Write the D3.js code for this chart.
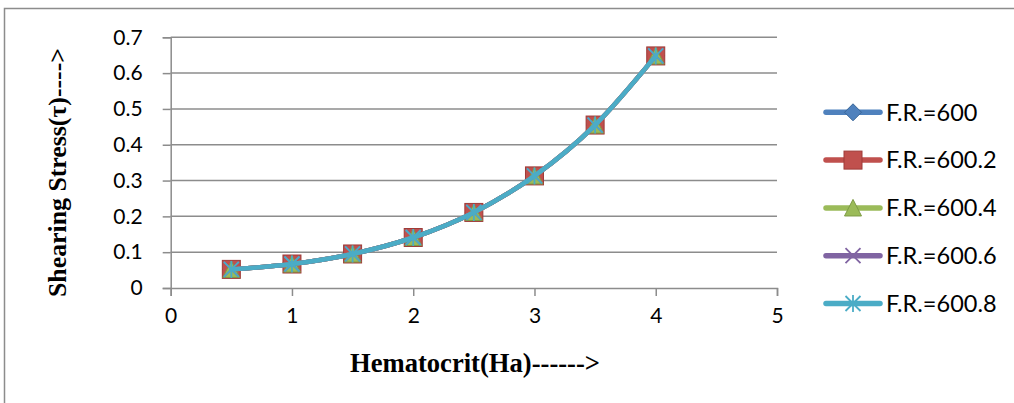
<!DOCTYPE html>
<html><head><meta charset="utf-8">
<script src="https://cdn.jsdelivr.net/npm/d3@7"></script>
<style>
body{margin:0;background:#fff;}
svg{display:block;}
</style></head>
<body>
<svg id="chart" width="1014" height="403"></svg>
<script>
const hematocrit = [0.5, 1, 1.5, 2, 2.5, 3, 3.5, 4];
const seriesNames = ["F.R.=600", "F.R.=600.2", "F.R.=600.4", "F.R.=600.6", "F.R.=600.8"];
const fr600   = [0.052, 0.067, 0.095, 0.141, 0.211, 0.313, 0.455, 0.648];
const fr600_2 = [0.052, 0.067, 0.095, 0.141, 0.211, 0.313, 0.455, 0.648];
const fr600_4 = [0.052, 0.067, 0.095, 0.141, 0.211, 0.313, 0.455, 0.648];
const fr600_6 = [0.052, 0.067, 0.095, 0.141, 0.211, 0.313, 0.455, 0.648];
const fr600_8 = [0.052, 0.067, 0.095, 0.141, 0.211, 0.313, 0.455, 0.648];
const xTicks = [0, 1, 2, 3, 4, 5];
const yTicks = [0, 0.1, 0.2, 0.3, 0.4, 0.5, 0.6, 0.7];
const xTitle = "Hematocrit(Ha)------>";
const yTitle = "Shearing Stress(τ)---->";

const seriesValues = [fr600, fr600_2, fr600_4, fr600_6, fr600_8];
const colors = ["#4F81BD", "#C0504D", "#9BBB59", "#8064A2", "#4BACC6"];
const strokes = ["#3A6699", "#9E3B38", "#7E9B45", "#63498A", "#3A94AC"];
const markers = ["diamond", "square", "triangle", "x", "star"];

const svg = d3.select("#chart");
const gridColor = "#8c8c8c";

// outer chart border (left + top, continuing past right/bottom)
svg.append("path").attr("d", "M4.5,403 L4.5,8.5 L1014,8.5")
  .attr("fill", "none").attr("stroke", gridColor).attr("stroke-width", 1.5);

const x = d3.scaleLinear().domain([0, 5]).range([170.7, 777]);
const y = d3.scaleLinear().domain([0, 0.7]).range([288, 37.3]);

// gridlines
svg.append("g").selectAll("line").data(yTicks.slice(1)).join("line")
  .attr("x1", x(0)).attr("x2", x(5))
  .attr("y1", d => y(d)).attr("y2", d => y(d))
  .attr("stroke", gridColor).attr("stroke-width", 1.5);

// axes
const tickFont = "Lato, 'Open Sans', sans-serif";
const xAxis = svg.append("g").attr("transform", `translate(0,${y(0)})`)
  .call(d3.axisBottom(x).tickValues(xTicks).tickSize(8).tickPadding(12).tickFormat(d3.format("d")));
const yAxis = svg.append("g").attr("transform", `translate(${x(0)},0)`)
  .call(d3.axisLeft(y).tickValues(yTicks).tickSize(8).tickPadding(20).tickFormat(d => d === 0 ? "0" : d3.format(".1f")(d)));
[xAxis, yAxis].forEach(g => {
  g.select(".domain").attr("stroke", gridColor).attr("stroke-width", 1.5);
  g.selectAll(".tick line").attr("stroke", gridColor).attr("stroke-width", 1.5);
  g.selectAll(".tick text").attr("fill", "#000").style("font-family", tickFont).style("font-size", "21px");
});
xAxis.selectAll(".tick text").attr("dy", "0.71em");

// marker generator
function drawMarker(g, type, cx, cy, i) {
  const fill = colors[i], st = strokes[i];
  if (type === "diamond") {
    const s = 8.5;
    g.append("path").attr("d", `M${cx},${cy - s}L${cx + s},${cy}L${cx},${cy + s}L${cx - s},${cy}Z`)
      .attr("fill", fill).attr("stroke", st).attr("stroke-width", 1);
  } else if (type === "square") {
    const s = 9;
    g.append("rect").attr("x", cx - s).attr("y", cy - s).attr("width", 2 * s).attr("height", 2 * s)
      .attr("fill", fill).attr("stroke", st).attr("stroke-width", 1);
  } else if (type === "triangle") {
    const s = 8.5;
    g.append("path").attr("d", `M${cx},${cy - s}L${cx + s},${cy + s * 0.95}L${cx - s},${cy + s * 0.95}Z`)
      .attr("fill", fill).attr("stroke", st).attr("stroke-width", 1);
  } else if (type === "x") {
    const s = 7.5;
    g.append("path").attr("d", `M${cx - s},${cy - s}L${cx + s},${cy + s}M${cx + s},${cy - s}L${cx - s},${cy + s}`)
      .attr("stroke", fill).attr("stroke-width", 1.8).attr("fill", "none");
  } else if (type === "star") {
    const s = 7.5;
    g.append("path").attr("d", `M${cx - s},${cy - s}L${cx + s},${cy + s}M${cx + s},${cy - s}L${cx - s},${cy + s}M${cx},${cy - s - 1}L${cx},${cy + s + 1}`)
      .attr("stroke", fill).attr("stroke-width", 1.8).attr("fill", "none");
  }
}

const line = d3.line().x(d => x(d[0])).y(d => y(d[1])).curve(d3.curveCatmullRom.alpha(0));

seriesValues.forEach((vals, i) => {
  const pts = hematocrit.map((h, k) => [h, vals[k]]);
  const g = svg.append("g");
  g.append("path").datum(pts).attr("d", line)
    .attr("fill", "none").attr("stroke", colors[i]).attr("stroke-width", 4.5)
    .attr("stroke-linecap", "round").attr("stroke-linejoin", "round");
  pts.forEach(p => drawMarker(g, markers[i], x(p[0]), y(p[1]), i));
});

// legend
const legTop = 112.3, legStep = 47.8;
seriesNames.forEach((name, i) => {
  const cy = legTop + i * legStep;
  const g = svg.append("g");
  g.append("line").attr("x1", 826).attr("x2", 880).attr("y1", cy).attr("y2", cy)
    .attr("stroke", colors[i]).attr("stroke-width", 5.5).attr("stroke-linecap", "round");
  drawMarker(g, markers[i], 853, cy, i);
  g.append("text").attr("x", 886).attr("y", cy + 8.3)
    .style("font-family", tickFont).style("font-size", "23.5px").attr("fill", "#000").text(name);
});

// axis titles
svg.append("text").attr("x", 475).attr("y", 372).attr("text-anchor", "middle")
  .style("font-family", "'Liberation Serif', 'Times New Roman', serif").style("font-weight", "bold")
  .style("font-size", "27px").attr("textLength", 250).attr("lengthAdjust", "spacingAndGlyphs")
  .attr("fill", "#000").text(xTitle);
svg.append("text").attr("transform", "translate(66,172.5) rotate(-90)").attr("text-anchor", "middle")
  .style("font-family", "'Liberation Serif', 'Times New Roman', serif").style("font-weight", "bold")
  .style("font-size", "26px").attr("textLength", 249).attr("lengthAdjust", "spacingAndGlyphs")
  .attr("fill", "#000").text(yTitle);
</script>
</body></html>
